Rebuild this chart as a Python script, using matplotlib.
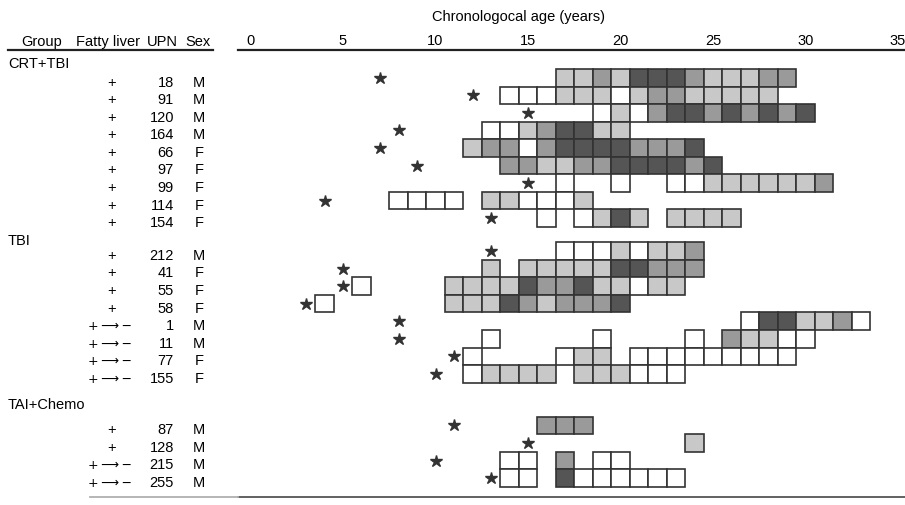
import numpy as np
import matplotlib.pyplot as plt
from matplotlib.patches import Rectangle
from matplotlib.lines import Line2D

plt.rcParams['font.family'] = ['Liberation Sans', 'DejaVu Sans']

# groups and patients (top to bottom)
group_names = ['CRT+TBI', 'TBI', 'TAI+Chemo']
group_size = [9, 8, 4]
ARROW = '+\u2009\u27f6\u2009\u2212'
fatty = ['+'] * 9 + ['+'] * 4 + [ARROW] * 4 + ['+', '+', ARROW, ARROW]
upn = [18, 91, 120, 164, 66, 97, 99, 114, 154,
       212, 41, 55, 58, 1, 11, 77, 155,
       87, 128, 215, 255]
sex = ['M', 'M', 'M', 'M', 'F', 'F', 'F', 'F', 'F',
       'M', 'F', 'F', 'F', 'M', 'M', 'F', 'F',
       'M', 'M', 'M', 'M']
# age at transplant (star)
star_age = [7, 12, 15, 8, 7, 9, 15, 4, 13,
            13, 5, 5, 3, 8, 8, 11, 10,
            11, 15, 10, 13]
# age of first yearly cell and grade per year ('.' = no exam, 0 white .. 3 dark)
first_age = [17, 14, 19, 13, 12, 14, 17, 8, 16,
             17, 13, 6, 4, 27, 13, 12, 12,
             16, 24, 14, 14]
grades = ["1121333211122",
          "000111012211111",
          "010233232323",
          "00123311",
          "1220233332223",
          "221122333323",
          "0..0..001111112",
          "0000.110001",
          "0.0131.1111",
          "00010112",
          "1.1111133222",
          "0....1111322311011",
          "0......1113212223",
          "0331120",
          "0.....0....0.21100",
          "0....011.000000000",
          "01111.111000",
          "222",
          "1",
          "00.2.00",
          "00.3000000"]
xticks = [0, 5, 10, 15, 20, 25, 30, 35]

shade = {'0': '#ffffff', '1': '#c8c8c8', '2': '#9a9a9a', '3': '#555555'}

W, H = 905, 506
X0, PX_X = 250.5, 18.5     # pixel of age 0, pixels per year
Y0, PX_Y = 78.8, 17.55     # pixel of first row, pixels per row
TOP, BOT = 51, 498
group_start = [0.0, 9.87, 19.81]

fig = plt.figure(figsize=(W / 100, H / 100), dpi=100)
ax = fig.add_axes([238 / W, 1 - BOT / H, (905 - 238) / W, (BOT - TOP) / H])
ax.set_xlim((238 - X0) / PX_X, (905 - X0) / PX_X)
ax.set_ylim((BOT - Y0) / PX_Y, (TOP - Y0) / PX_Y)


def tx(px):
    return (px - X0) / PX_X


row_y = []
for g, n in enumerate(group_size):
    row_y += [group_start[g] + k for k in range(n)]

# cells
for i, y in enumerate(row_y):
    for k, c in enumerate(grades[i]):
        if c == '.':
            continue
        a = first_age[i] + k
        ax.add_patch(Rectangle((a - 0.5, y - 0.5), 1, 1, facecolor=shade[c],
                               edgecolor='#333333', lw=1.2))

ax.plot(star_age, row_y, ls='none', marker='*', ms=9, color='#333333', clip_on=False)

# table
for i, y in enumerate(row_y):
    if '\u27f6' in fatty[i]:
        ax.text(tx(110), y + 0.45, fatty[i], ha='center', va='baseline', fontsize=9,
                family=['DejaVu Sans'])
    else:
        ax.text(tx(112), y + 0.45, fatty[i], ha='center', va='baseline', fontsize=10.5)
    ax.text(tx(174), y + 0.45, str(upn[i]), ha='right', va='baseline', fontsize=10.5)
    ax.text(tx(199), y + 0.45, sex[i], ha='center', va='baseline', fontsize=10.5)

label_off = [-0.6, -0.4, -1.0]
for g, name in enumerate(group_names):
    ax.text(tx(8), group_start[g] + label_off[g], name, ha='left', va='baseline', fontsize=10.5)

for px, s in zip([42, 108, 162, 198], ['Group', 'Fatty liver', 'UPN', 'Sex']):
    fig.text(px / W, 1 - 46 / H, s, ha='center', va='baseline', fontsize=10.5)
fig.add_artist(Line2D([8 / W, 213 / W], [1 - TOP / H] * 2, color='#222222', lw=1.6))
fig.add_artist(Line2D([90 / W, 238 / W], [1 - BOT / H] * 2, color='#b0b0b0', lw=1.3))
fig.text(519 / W, 1 - 21 / H, 'Chronologocal age (years)', ha='center', va='baseline', fontsize=10.5)

ax.xaxis.tick_top()
ax.set_xticks(xticks)
ax.tick_params(axis='x', length=0, pad=2, labelsize=10.5)
ax.set_yticks([])
for s in ['left', 'right']:
    ax.spines[s].set_visible(False)
ax.spines['top'].set_linewidth(1.6)
ax.spines['top'].set_color('#222222')
ax.spines['bottom'].set_linewidth(1.3)
ax.spines['bottom'].set_color('#555555')

fig.savefig('out.png', dpi=100)
